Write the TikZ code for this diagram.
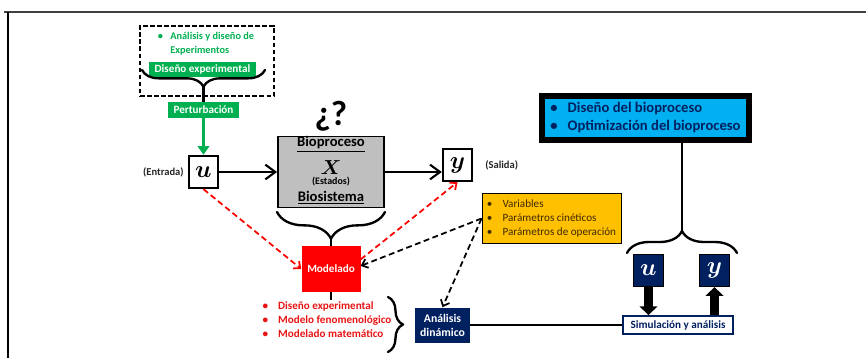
\documentclass[tikz,border=0pt]{standalone}
\usepackage{amsmath}
\usepackage{fontspec}
\setmainfont{Carlito}
\usetikzlibrary{arrows.meta,positioning,calc,decorations.pathreplacing}
\definecolor{expgreen}{RGB}{0,176,80}
\definecolor{modred}{RGB}{255,0,0}
\definecolor{listred}{RGB}{232,20,20}
\definecolor{navy}{RGB}{0,32,96}
\definecolor{paryellow}{RGB}{255,192,0}
\definecolor{parbrown}{RGB}{60,40,0}
\definecolor{optblue}{RGB}{0,176,240}
\definecolor{biogrey}{RGB}{191,191,191}
\newcommand{\fsz}[2]{\fontsize{#1}{#2}\selectfont}

\begin{document}
\begin{tikzpicture}[x=0.3mm,y=-0.3mm,>=Latex]
  \tikzstyle{gbox}=[fill=expgreen,text=white,inner sep=0pt,font=\fsz{9.5}{11}\bfseries]
  \tikzstyle{sig}=[draw,line width=2pt,fill=white,inner sep=0pt,minimum width=8.7mm,minimum height=9.6mm,font=\fsz{20.74}{22}]
  \tikzstyle{nsig}=[draw,line width=1pt,fill=navy,text=white,inner sep=0pt,minimum width=9mm,minimum height=9.6mm,font=\fsz{20.74}{22}]
  \tikzstyle{brc}=[decorate,line width=2pt,line cap=round,line join=round]
  \tikzstyle{brl}=[line width=2pt]
  \tikzstyle{barr}=[line width=1.8pt,-{Straight Barb[length=3mm,width=4.4mm]}]
  \tikzstyle{tarr}=[line width=2.6mm,-{Triangle[length=2.6mm,width=5.2mm]}]
  \tikzstyle{rdash}=[modred,line width=1.5pt,dash pattern=on 5pt off 3pt,-{Straight Barb[length=1.6mm,width=2.8mm]}]
  \tikzstyle{kdash}=[rdash,black]
  \useasboundingbox (0,0) rectangle (866,358);
  % frame
  \draw[line width=1.2pt,black!75] (4,12) -- (866,12);
  \draw[line width=1pt] (8,12) -- (8,358);

  % experiment design
  \node[draw,line width=1.3pt,dash pattern=on 4pt off 2pt,minimum width=40.2mm,minimum height=21mm] (expbox) at (207,61) {};
  \node[text=expgreen,font=\fsz{8.8}{12}\bfseries,inner sep=0pt] (exptxt) at (206,44)
    {\begin{tabular}{@{}l@{\hspace{2.2mm}}l@{}}\textbullet & Análisis y diseño de\\ & Experimentos\end{tabular}};
  \node[gbox,minimum width=32.1mm,minimum height=4.5mm] (dexp) at (202.5,69.5) {Diseño experimental};
  \draw[brc,decoration={brace,mirror,amplitude=5mm}] (142,70) -- (265,70);
  \coordinate (b1) at (203.5,86);
  \node[gbox,minimum width=21.3mm,minimum height=4.8mm] (pert) at (203.5,110) {Perturbación};
  \draw[brl] (b1) -- (pert);

  % process chain
  \node[sig] (u) at (203.5,172) {$\boldsymbol{u}$};
  \draw[expgreen,line width=2pt,-{Triangle[length=2.6mm,width=3.4mm]}] (pert) -- (u);
  \node[font=\fsz{9}{10}\bfseries,text=black!85,left=0mm of u] (entr) {(Entrada)};
  \node[draw,line width=1.5pt,fill=biogrey,minimum width=31.8mm,minimum height=21.3mm] (bio) at (331,172) {};
  \node[font=\fsz{12.5}{14}\bfseries] (biot) at (331,144) {\underline{Bioproceso}};
  \node[font=\fsz{17.28}{18}] (bix) at (331,168) {$\boldsymbol{X}$};
  \node[font=\fsz{8.5}{10}\bfseries] (bies) at (331,182) {(Estados)};
  \node[font=\fsz{12.5}{14}\bfseries] (bios) at (331,198) {\underline{Biosistema}};
  \node[font=\fsz{30}{32}\bfseries,above=0mm of bio] (qq) {¿?};
  \node[sig] (ybox) at (457.5,165) {$\boldsymbol{y}$};
  \node[font=\fsz{9}{10}\bfseries,text=black!85,right=2.4mm of ybox] (sal) {(Salida)};
  \draw[barr] (u) -- (bio);
  \draw[barr] (bio) -- (bio -| ybox.west);

  % modelling
  \draw[brc,decoration={brace,mirror,amplitude=8mm}] (277,212) -- (385,212);
  \coordinate (b2) at (331,238);
  \node[fill=modred,text=white,font=\fsz{9.5}{11}\bfseries,minimum width=17.7mm,minimum height=13.8mm] (mod) at (331,269) {Modelado};
  \draw[brl] (b2) -- (mod);
  \node[text=listred,font=\fsz{9.5}{12}\bfseries,inner sep=0pt] (lst) at (327,321)
    {\begin{tabular}{@{}l@{\hspace{3mm}}l@{}}\textbullet & Diseño experimental\\ \textbullet & Modelo fenomenológico\\ \textbullet & Modelado matemático\end{tabular}};
  \draw[brl] (mod) -- (mod |- lst.north);
  \draw[brc,decoration={brace,amplitude=4.5mm}] (388,297) -- (388,352);

  \node[draw,line width=0.8pt,fill=paryellow,text=parbrown,font=\fsz{9.5}{12},minimum width=41.7mm,minimum height=13.5mm] (par) at (551.5,218.5)
    {\begin{tabular}{@{}l@{\hspace{3mm}}l@{}}\textbullet & Variables\\ \textbullet & Parámetros cinéticos\\ \textbullet & Parámetros de operación\end{tabular}};

  % analysis and simulation
  \node[fill=navy,text=white,font=\fsz{10}{12}\bfseries,align=center,minimum width=16.5mm,minimum height=10.5mm] (ana) at (442.5,325) {Análisis\\dinámico};
  \node[draw=navy,line width=1.5pt,fill=white,text=navy,font=\fsz{9.5}{11}\bfseries,minimum width=33mm,minimum height=5.4mm] (sim) at (678,325) {Simulación y análisis};
  \draw[line width=1.6pt] (ana) -- (sim);
  \node[nsig] (nu) at (648.5,270.5) {$\boldsymbol{u}$};
  \node[nsig] (ny) at (714.5,270.5) {$\boldsymbol{y}$};
  \draw[tarr] (nu) -- (nu |- sim.north);
  \draw[tarr] (ny |- sim.north) -- (ny);

  \draw[rdash] (u.south) -- (mod.west);
  \draw[rdash] (mod.18) -- (ybox.south);
  \draw[kdash] (par.west) -- (mod.6);
  \draw[kdash] (par.west) -- (ana.north);

  \node[draw,line width=1.7mm,fill=optblue,text=navy,font=\fsz{12.5}{15.4}\bfseries,minimum width=62.1mm,minimum height=12.6mm] (opt) at (645.5,118)
    {\begin{tabular}{@{}l@{\hspace{3mm}}l@{}}\textbullet & Diseño del bioproceso\\ \textbullet & Optimización del bioproceso\end{tabular}};
  \draw[brc,decoration={brace,amplitude=6.6mm}] (627,253) -- (737,253);
  \coordinate (b4) at (682,232);
  \draw[brl] (opt.south -| b4) -- (b4);
\end{tikzpicture}
\end{document}
